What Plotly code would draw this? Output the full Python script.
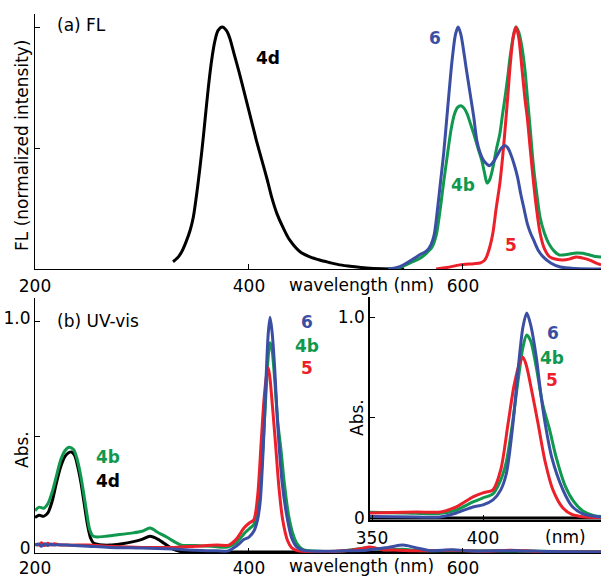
import plotly.graph_objects as go

W, H = 601, 578

# ---------------- data: (a) FL (normalized) ----------------
fl_4d_wl = [329, 333, 337, 341, 345, 348, 352, 356, 359, 362, 365, 368, 371, 375, 379, 382, 386, 391, 395,
            399, 403, 407, 412, 417, 421, 426, 432, 438, 448, 457, 466, 475, 485, 497, 510, 525, 545]
fl_4d = [0.03, 0.045, 0.07, 0.11, 0.16, 0.215, 0.34, 0.49, 0.62, 0.75, 0.86, 0.94, 0.985, 1.0, 0.985, 0.955,
         0.89, 0.81, 0.74, 0.67, 0.60, 0.53, 0.45, 0.37, 0.30, 0.23, 0.17, 0.12, 0.07, 0.05, 0.037, 0.027,
         0.017, 0.01, 0.004, 0.001, 0.0]

fl_6_wl = [530, 541, 553, 560, 566, 570, 573, 576, 579, 582, 585, 588, 590, 593, 595.5, 598, 600, 603,
           606.5, 610, 613, 616, 619, 622, 624.5, 628, 632, 636, 639, 642, 645, 648, 651, 654, 657, 660,
           663, 666, 670, 675, 682, 691, 705, 729]
fl_6 = [0.0, 0.01, 0.04, 0.06, 0.075, 0.10, 0.14, 0.24, 0.36, 0.48, 0.63, 0.78, 0.87, 0.97, 1.0, 0.97,
        0.92, 0.83, 0.73, 0.63, 0.53, 0.48, 0.45, 0.435, 0.427, 0.44, 0.47, 0.50, 0.51, 0.50, 0.47, 0.43,
        0.38, 0.31, 0.25, 0.19, 0.15, 0.12, 0.08, 0.05, 0.025, 0.008, 0.002, 0.0]

fl_4b_wl = [530, 540, 553, 560, 566, 571, 575, 578.5, 582, 586, 589, 592, 595, 598, 601, 604, 607, 610,
            614, 617.5, 620, 622.5, 625, 628, 631, 634.5, 637, 639, 642, 644, 647, 649.5, 652, 655, 658,
            660, 663, 666, 669, 672, 676, 680, 685, 690, 697, 706, 712, 718.5, 724, 729]
fl_4b = [0.0, 0.005, 0.03, 0.045, 0.066, 0.09, 0.14, 0.24, 0.36, 0.49, 0.58, 0.64, 0.668, 0.675, 0.665,
         0.64, 0.60, 0.56, 0.50, 0.45, 0.40, 0.355, 0.37, 0.42, 0.49, 0.56, 0.64, 0.70, 0.80, 0.875, 0.96,
         1.0, 0.98, 0.92, 0.82, 0.72, 0.57, 0.42, 0.31, 0.215, 0.15, 0.107, 0.075, 0.058, 0.06, 0.066,
         0.065, 0.058, 0.052, 0.05]

fl_5_wl = [575, 585, 597, 610, 616, 620, 622, 625, 628, 631, 634.5, 637, 639, 642, 644, 647, 649.5, 652,
           655, 658, 660, 663, 666, 669, 672, 676, 681, 687, 693.5, 700, 706, 712, 718.5, 724, 729]
fl_5 = [0.0, 0.006, 0.017, 0.022, 0.025, 0.035, 0.05, 0.09, 0.15, 0.25, 0.355, 0.46, 0.56, 0.72, 0.835,
        0.96, 1.0, 0.96, 0.835, 0.70, 0.63, 0.49, 0.355, 0.24, 0.15, 0.085, 0.05, 0.04, 0.037, 0.042,
        0.05, 0.045, 0.037, 0.025, 0.017]

# ---------------- data: (b) UV-vis (Abs.) ----------------
uv_4d_wl = [200, 204, 208, 212, 216, 220, 224, 228, 231, 234, 237, 240, 243, 246, 249, 252, 255, 260,
            270, 280, 292, 300, 307.5, 315, 323, 329, 335, 345, 360, 400, 450, 500, 550, 600, 650, 700, 729]
uv_4d = [0.15, 0.16, 0.155, 0.17, 0.22, 0.30, 0.37, 0.415, 0.43, 0.435, 0.42, 0.37, 0.30, 0.21, 0.12,
         0.06, 0.038, 0.032, 0.03, 0.035, 0.045, 0.055, 0.068, 0.055, 0.03, 0.012, 0.003, 0.0, 0.0, 0.0,
         0.0, 0.0, 0.0, 0.0, 0.0, 0.0, 0.0]

uv_4b_wl = [200, 204, 208, 212, 216, 220, 224, 228, 232, 236, 239, 242, 245, 248, 251, 254, 258, 265,
            276, 290, 300, 307.5, 315, 323, 330, 337, 350, 365, 380, 388, 395.5, 400, 404.5, 408, 410.5,
            413, 416, 418, 419.7, 421.5, 424, 427, 430, 433, 437, 441, 445, 450, 460, 490, 505, 513, 525,
            544, 560, 590, 650, 729]
uv_4b = [0.18, 0.195, 0.19, 0.21, 0.26, 0.33, 0.40, 0.44, 0.455, 0.445, 0.41, 0.35, 0.27, 0.18, 0.10,
         0.07, 0.065, 0.068, 0.074, 0.082, 0.09, 0.104, 0.085, 0.065, 0.045, 0.03, 0.028, 0.025, 0.022,
         0.04, 0.08, 0.10, 0.12, 0.19, 0.28, 0.45, 0.70, 0.85, 0.91, 0.88, 0.75, 0.56, 0.44, 0.30, 0.16,
         0.08, 0.035, 0.012, 0.004, 0.006, 0.015, 0.02, 0.01, 0.012, 0.006, 0.006, 0.004, 0.0]

uv_5_wl = [200, 203, 206, 209, 212, 215, 218, 222, 230, 250, 270, 300, 330, 350, 370, 381, 388, 395.5,
           400, 404.5, 408, 411.3, 414, 416.5, 418, 419.5, 422, 424.8, 428, 431.5, 436, 440, 446, 460,
           490, 505, 513, 525, 540, 560, 590, 620, 645, 670, 729]
uv_5 = [0.035, 0.03, 0.04, 0.028, 0.038, 0.03, 0.036, 0.032, 0.03, 0.03, 0.025, 0.02, 0.02, 0.025, 0.03,
        0.03, 0.055, 0.105, 0.125, 0.14, 0.24, 0.47, 0.66, 0.77, 0.80, 0.76, 0.63, 0.47, 0.28, 0.14, 0.05,
        0.018, 0.005, 0.002, 0.005, 0.015, 0.022, 0.01, 0.008, 0.005, 0.008, 0.003, 0.008, 0.002, 0.0]

uv_6_wl = [200, 203, 206, 209, 212, 215, 218, 222, 230, 250, 270, 300, 330, 350, 370, 380.6, 388, 395.5,
           400, 404.5, 408, 410.5, 413.5, 416, 418, 419.7, 421.5, 424, 426, 428, 431, 436, 440, 445, 452,
           470, 490, 510, 530, 544, 555, 570, 590, 610, 650, 680, 729]
uv_6 = [0.03, 0.035, 0.025, 0.036, 0.028, 0.035, 0.03, 0.032, 0.03, 0.025, 0.02, 0.017, 0.013, 0.008,
        0.005, 0.005, 0.025, 0.055, 0.065, 0.09, 0.14, 0.22, 0.47, 0.76, 0.95, 1.02, 0.96, 0.80, 0.62,
        0.47, 0.30, 0.14, 0.06, 0.02, 0.006, 0.003, 0.005, 0.008, 0.02, 0.03, 0.02, 0.006, 0.01, 0.004,
        0.006, 0.002, 0.0]

# axis ticks
x_main_ticks = [200, 400, 600]
fl_y_ticks = [0.5, 1.0]
uv_y_ticks = [0, 0.5, 1.0]
uv_y_labels = ["0", "", "1.0"]
inset_x_ticks = [350, 400]

BLUE = "rgb(58,78,163)"
GREEN = "rgb(16,152,78)"
RED = "rgb(236,32,42)"
BLACK = "black"
FONT = "DejaVu Sans"


def px(x, y):
    return x / W, 1 - y / H


fig = go.Figure()

LW = 3
SM = 0.8
# top FL
for wl, v, c in [(fl_4d_wl, fl_4d, BLACK), (fl_4b_wl, fl_4b, GREEN), (fl_5_wl, fl_5, RED), (fl_6_wl, fl_6, BLUE)]:
    fig.add_trace(go.Scatter(x=wl, y=v, mode="lines", line=dict(color=c, width=LW, shape="spline", smoothing=SM),
                             xaxis="x", yaxis="y", showlegend=False, hoverinfo="skip"))
# bottom UV-vis main and inset
for ax, ay in [("x2", "y2"), ("x3", "y3")]:
    for wl, v, c in [(uv_4d_wl, uv_4d, BLACK), (uv_4b_wl, uv_4b, GREEN), (uv_5_wl, uv_5, RED), (uv_6_wl, uv_6, BLUE)]:
        fig.add_trace(go.Scatter(x=wl, y=v, mode="lines", line=dict(color=c, width=LW, shape="spline", smoothing=SM),
                                 xaxis=ax, yaxis=ay, showlegend=False, hoverinfo="skip"))

x_left = 35 / W
tickfont = dict(family=FONT, size=17, color="black")
common = dict(showline=True, linecolor="black", linewidth=1, ticks="inside", ticklen=5, tickwidth=1,
              tickcolor="black", showgrid=False, zeroline=False, tickfont=tickfont, automargin=False)

fig.update_layout(
    width=W, height=H, margin=dict(l=0, r=0, t=0, b=0),
    paper_bgcolor="white", plot_bgcolor="rgba(0,0,0,0)",
    xaxis=dict(domain=[x_left, 1], range=[200, 729], anchor="y", tickvals=x_main_ticks,
               ticklabelstandoff=2, **common),
    yaxis=dict(domain=[1 - 269 / H, 1 - 14 / H], range=[0, 1.054], anchor="x", tickvals=fl_y_ticks,
               showticklabels=False, **common),
    xaxis2=dict(domain=[x_left, 1], range=[200, 729], anchor="y2", tickvals=x_main_ticks,
                ticklabelstandoff=0, **common),
    yaxis2=dict(domain=[1 - 553 / H, 1 - 298 / H], range=[-0.0043, 1.104], anchor="x2", tickvals=uv_y_ticks,
                ticktext=uv_y_labels, ticklabelshift=-4, **common),
    xaxis3=dict(domain=[370 / W, 1], range=[349.1, 349.1 + 231 / 2.22], anchor="y3", tickvals=inset_x_ticks,
                ticklabelstandoff=2, **{**common, "linewidth": 2}),
    yaxis3=dict(domain=[1 - 520 / H, 1 - 297 / H], range=[-0.00995, 1.0995], anchor="x3", tickvals=uv_y_ticks,
                ticktext=uv_y_labels, **{**common, "linewidth": 1.5}),
)

ann = []


def text(x, y, s, color="black", bold=False, size=17, xanchor="center", angle=0):
    xx, yy = px(x, y)
    ann.append(dict(x=xx, y=yy, xref="paper", yref="paper", text=("<b>%s</b>" % s) if bold else s,
                    showarrow=False, xanchor=xanchor, yanchor="middle", textangle=angle,
                    font=dict(family=FONT, size=size, color=color)))


text(55, 25, "(a) FL", xanchor="left")
text(268, 58, "4d", BLACK, True)
text(435, 38, "6", BLUE, True)
text(463, 185, "4b", GREEN, True)
text(511, 245, "5", RED, True)
text(22, 145, "FL (normalized intensity)", angle=-90)
text(361, 285, "wavelength (nm)")

text(55, 321, "(b) UV-vis", xanchor="left")
text(22, 450, "Abs.", angle=-90)
text(108, 457, "4b", GREEN, True)
text(108, 481, "4d", BLACK, True)
text(307, 322, "6", BLUE, True)
text(307, 346, "4b", GREEN, True)
text(307, 368, "5", RED, True)
text(361, 566, "wavelength (nm)")

text(357, 418, "Abs.", angle=-90)
text(553, 333, "6", BLUE, True)
text(552, 358, "4b", GREEN, True)
text(552, 380, "5", RED, True)
text(565, 537, "(nm)")

fig.update_layout(annotations=ann)
fig.write_html("out.html")
